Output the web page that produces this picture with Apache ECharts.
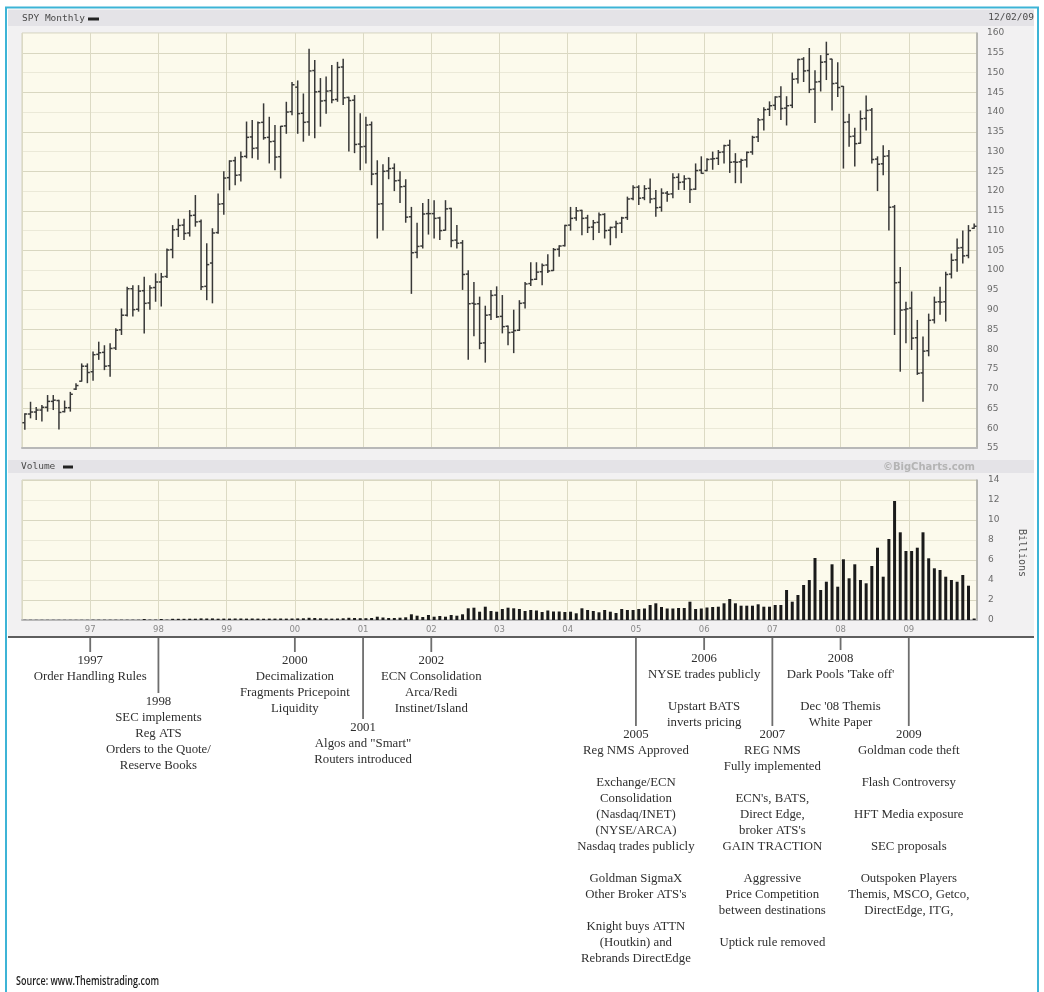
<!DOCTYPE html>
<html><head><meta charset="utf-8">
<script src="https://cdn.jsdelivr.net/npm/echarts@6/dist/echarts.min.js"></script>
<style>html,body{margin:0;padding:0;background:#fff;}#c{width:1044px;height:992px;}</style>
</head><body><div id="c"></div>
<script>
// ---- data (SPY monthly, Jan 1996 .. Dec 2009) ----
const yearLabels = ['97','98','99','00','01','02','03','04','05','06','07','08','09'];
const open = [
61.4,63.6,64.1,64.6,65.3,66.8,67.0,64.2,65.2,69.9,71.9,75.7,
74.3,78.7,79.2,75.8,80.3,84.9,88.6,95.3,90.1,94.8,91.7,95.6,
97.0,98.4,105.2,110.3,111.4,109.4,113.9,112.3,95.9,101.8,109.5,116.8,
123.4,127.7,124.1,128.8,133.7,130.9,137.4,133.6,132.6,128.7,136.5,140.1,
146.3,139.7,137.5,150.5,145.2,142.9,145.4,143.2,151.4,143.7,143.0,131.9,
131.3,136.8,124.4,116.8,125.1,125.8,122.7,121.2,113.5,104.5,106.1,114.3,
114.3,113.2,110.1,115.6,107.6,106.9,99.0,91.6,91.5,81.6,88.7,93.7,
88.3,85.8,84.3,84.8,91.7,96.6,97.7,99.6,101.3,99.9,105.3,106.2,
111.4,113.2,115.1,113.2,110.9,112.1,114.1,110.1,110.9,111.9,113.3,118.1,
121.0,118.3,120.7,118.1,115.9,119.5,119.3,123.5,122.3,123.2,120.5,125.3,
125.2,128.1,128.3,129.9,131.6,127.4,127.4,127.9,129.9,133.7,138.1,140.7,
141.7,143.9,141.0,141.7,148.4,153.4,150.5,145.8,147.7,152.7,153.4,147.3,
146.5,137.5,133.9,132.1,138.4,140.5,128.1,126.9,128.9,116.0,96.9,90.0,
90.4,82.9,74.0,79.6,87.4,92.0,92.0,99.0,102.6,105.7,103.7,110.6];
const high = [
63.8,66.7,65.4,65.9,68.4,68.4,67.2,67.0,69.2,71.4,76.4,76.4,
79.4,81.9,81.0,81.5,85.3,90.3,95.8,96.2,96.2,98.3,96.2,99.2,
99.3,105.5,111.4,113.0,113.0,115.2,119.0,112.8,106.8,110.6,119.4,125.0,
127.8,128.7,130.0,137.6,138.0,137.6,142.2,138.8,136.7,136.5,142.6,147.6,
148.0,144.7,156.0,153.2,148.6,149.0,151.9,152.7,153.5,143.9,144.3,139.7,
138.8,137.6,127.8,126.8,128.6,127.0,125.0,123.0,116.0,112.0,117.0,118.0,
117.7,113.5,117.7,115.8,111.4,107.6,100.0,97.0,93.3,91.0,95.0,95.9,
93.7,86.0,90.0,92.4,97.0,102.0,102.0,101.7,104.0,105.6,106.3,111.5,
116.0,116.0,115.3,114.0,112.7,114.6,114.4,111.0,112.5,113.5,118.6,121.5,
121.5,121.5,123.2,120.3,120.7,120.0,124.5,124.5,124.0,123.3,127.0,128.8,
128.3,130.0,130.4,131.7,133.0,129.6,128.2,130.0,134.0,138.5,141.2,142.7,
144.0,146.5,144.0,150.0,153.5,153.9,156.2,150.6,154.4,157.8,153.5,152.6,
146.6,139.6,136.0,140.4,144.2,141.0,128.8,131.6,130.4,116.5,100.8,92.0,
94.6,87.4,83.2,89.0,93.3,95.8,99.6,104.2,108.0,110.0,111.4,111.8];
const low = [
59.6,62.5,62.1,61.7,64.2,64.6,59.7,64.0,64.2,69.7,71.8,71.4,
72.0,77.3,74.7,73.0,79.8,83.6,88.3,88.3,89.5,84.0,90.0,92.0,
90.8,98.0,103.0,108.4,107.6,108.5,111.0,95.0,92.4,91.6,109.2,114.0,
120.2,121.5,122.4,128.3,128.3,127.9,133.0,127.0,125.3,123.2,134.5,139.2,
134.5,132.5,134.0,133.4,136.3,139.6,142.2,142.6,141.8,130.0,129.6,125.3,
127.0,121.5,108.0,110.0,123.0,120.0,117.0,112.0,94.0,103.0,105.5,109.0,
108.0,107.6,110.0,105.8,105.5,95.0,77.3,83.3,80.0,76.6,87.4,87.9,
84.0,81.0,79.0,84.6,90.3,96.0,97.5,96.2,99.3,99.8,103.4,106.0,
110.0,112.5,108.8,109.4,107.6,109.4,108.0,106.3,108.1,109.4,112.7,117.7,
116.5,117.7,116.9,113.5,114.8,117.3,118.2,120.3,120.3,117.0,120.3,124.4,
125.0,125.4,126.6,127.0,124.6,122.0,122.0,126.0,129.2,132.4,135.3,139.0,
140.5,138.0,136.6,141.0,147.2,147.6,144.8,137.2,145.2,148.1,140.4,143.8,
125.7,131.2,126.2,132.0,135.3,127.0,120.0,124.0,110.0,83.6,74.3,81.5,
79.8,73.5,66.7,78.2,86.5,88.7,87.0,97.9,99.6,101.7,103.0,110.5];
const close = [
63.6,64.1,64.6,65.3,66.8,67.1,64.0,65.2,68.6,70.8,75.7,74.1,
78.6,79.1,75.7,80.2,84.8,88.6,95.3,90.0,94.7,91.6,95.5,97.0,
98.3,105.1,110.2,111.3,109.3,113.8,112.2,95.8,101.4,109.4,116.7,123.3,
127.6,124.0,128.7,133.6,130.8,137.3,133.5,132.5,128.6,136.4,140.0,146.9,
139.6,137.4,150.4,145.1,142.8,145.3,143.1,151.3,143.6,142.9,131.8,131.2,
136.7,124.3,116.7,125.0,125.7,122.6,121.1,113.4,104.4,106.0,114.2,114.3,
113.1,110.0,115.5,107.5,106.8,98.9,91.5,91.4,81.5,88.6,93.6,88.2,
85.7,84.2,84.7,91.6,96.5,97.6,99.5,101.2,99.8,105.2,106.1,111.3,
113.1,115.0,113.1,110.8,112.0,114.0,110.0,110.8,111.8,113.2,118.0,120.9,
118.2,120.6,118.0,115.8,119.5,119.2,123.4,122.2,123.1,120.4,125.2,124.5,
128.0,128.2,129.8,131.5,127.3,127.3,127.8,129.8,133.6,138.0,140.6,141.6,
143.8,140.9,141.6,148.3,153.3,150.4,145.7,147.6,152.6,154.6,147.2,146.2,
137.4,133.8,132.0,138.3,140.4,128.0,126.8,128.8,115.9,96.8,89.9,90.2,
82.8,73.9,79.5,87.3,91.9,91.9,98.9,102.5,105.6,103.6,110.0,111.1];
// volume, billions of shares
const volume = [
0.02,0.02,0.02,0.02,0.02,0.02,0.02,0.02,0.02,0.02,0.02,0.02,
0.03,0.03,0.03,0.03,0.03,0.03,0.03,0.03,0.03,0.1,0.04,0.04,
0.1,0.04,0.12,0.12,0.12,0.13,0.13,0.16,0.15,0.16,0.13,0.14,
0.14,0.15,0.15,0.14,0.15,0.14,0.13,0.14,0.14,0.15,0.14,0.15,
0.16,0.17,0.22,0.2,0.17,0.15,0.14,0.15,0.17,0.22,0.2,0.18,
0.18,0.2,0.33,0.25,0.2,0.2,0.23,0.27,0.57,0.43,0.3,0.5,
0.33,0.4,0.33,0.5,0.43,0.57,1.17,1.23,0.83,1.33,0.9,0.83,
1.1,1.23,1.17,1.1,0.9,1.0,0.95,0.8,0.95,0.85,0.85,0.8,
0.83,0.67,1.17,1.0,0.9,0.77,1.0,0.83,0.7,1.1,1.0,1.0,
1.1,1.15,1.5,1.67,1.3,1.15,1.15,1.2,1.2,1.83,1.1,1.15,
1.25,1.3,1.33,1.67,2.1,1.67,1.43,1.43,1.43,1.57,1.33,1.33,
1.5,1.5,3.0,1.83,2.5,3.5,4.0,6.2,3.0,3.83,5.57,3.33,
6.07,4.17,5.57,4.0,3.67,5.4,7.23,4.33,8.1,11.9,8.77,6.9,
6.9,7.23,8.77,6.17,5.17,5.0,4.33,4.0,3.83,4.5,3.43,0.15];
// timeline annotations
const annotations = [
 {year:1997, lineEnd:652, lines:['1997','Order Handling Rules']},
 {year:1998, lineEnd:693, lines:['1998','SEC implements','Reg ATS','Orders to the Quote/','Reserve Books']},
 {year:2000, lineEnd:652, lines:['2000','Decimalization','Fragments Pricepoint','Liquidity']},
 {year:2001, lineEnd:719, lines:['2001','Algos and "Smart"','Routers introduced']},
 {year:2002, lineEnd:652, lines:['2002','ECN Consolidation','Arca/Redi','Instinet/Island']},
 {year:2005, lineEnd:726, lines:['2005','Reg NMS Approved','','Exchange/ECN','Consolidation','(Nasdaq/INET)','(NYSE/ARCA)','Nasdaq trades publicly','','Goldman SigmaX','Other Broker ATS\'s','','Knight buys ATTN','(Houtkin) and','Rebrands DirectEdge']},
 {year:2006, lineEnd:650, lines:['2006','NYSE trades publicly','','Upstart BATS','inverts pricing']},
 {year:2007, lineEnd:726, lines:['2007','REG NMS','Fully implemented','','ECN\'s, BATS,','Direct Edge,','broker ATS\'s','GAIN TRACTION','','Aggressive','Price Competition','between destinations','','Uptick rule removed']},
 {year:2008, lineEnd:650, lines:['2008','Dark Pools \'Take off\'','','Dec \'08 Themis','White Paper']},
 {year:2009, lineEnd:726, lines:['2009','Goldman code theft','','Flash Controversy','','HFT Media exposure','','SEC proposals','','Outspoken Players','Themis, MSCO, Getco,','DirectEdge, ITG,']}
];

const ohlc = close.map((c, i) => [i + 0.5, open[i], high[i], low[i], c]);
const vol = volume.map((v, i) => [i + 0.5, v]);

const chart = echarts.init(document.getElementById('c'));
const lblFont = {fontFamily:'DejaVu Sans', fontSize:9, color:'#6a6a6a'};
const darkGrid = '#d9d7c1', lightGrid = '#ebe9d8';

function renderOHLC(params, api) {
  const x = api.value(0);
  const o = api.coord([x, api.value(1)]);
  const h = api.coord([x, api.value(2)]);
  const l = api.coord([x, api.value(3)]);
  const c = api.coord([x, api.value(4)]);
  const st = {stroke:'#383838', lineWidth:1.5};
  return {type:'group', children:[
    {type:'line', shape:{x1:h[0], y1:h[1], x2:l[0], y2:l[1]}, style:st},
    {type:'line', shape:{x1:o[0]-2.5, y1:o[1], x2:o[0], y2:o[1]}, style:st},
    {type:'line', shape:{x1:c[0], y1:c[1], x2:c[0]+2.5, y2:c[1]}, style:st}
  ]};
}

const xCommon = {type:'value', min:0, max:168, interval:12,
  axisTick:{show:false},
  axisLine:{show:true, onZero:false, lineStyle:{color:'#b8b8b8', width:2}},
  splitLine:{show:true, lineStyle:{color:'#dcdac4', width:1}}};

chart.setOption({
  animation:false,
  backgroundColor:'#ffffff',
  grid:[
    {left:22, right:67, top:33, height:415, show:true, backgroundColor:'#fcfaec', borderColor:'#d3d1bd', borderWidth:1},
    {left:22, right:67, top:480, height:140, show:true, backgroundColor:'#fcfaec', borderColor:'#d3d1bd', borderWidth:1}
  ],
  xAxis:[
    Object.assign({gridIndex:0, axisLabel:{show:false}}, xCommon),
    Object.assign({gridIndex:1, axisLabel:{show:true, fontFamily:'DejaVu Sans', fontSize:8.5, color:'#8a8a8a', margin:5,
      showMinLabel:false, showMaxLabel:false,
      formatter: v => yearLabels[v / 12 - 1] || ''}}, xCommon)
  ],
  yAxis:[
    {type:'value', gridIndex:0, position:'right', min:55, max:160, interval:5,
     axisLabel:Object.assign({margin:10}, lblFont), axisTick:{show:false},
     axisLine:{show:true, onZero:false, lineStyle:{color:'#a8a8a8', width:1.5}},
     splitLine:{show:true, lineStyle:{color:[darkGrid, lightGrid]}}},
    {type:'value', gridIndex:1, position:'right', min:0, max:14, interval:2,
     axisLabel:Object.assign({margin:11}, lblFont), axisTick:{show:false},
     axisLine:{show:true, onZero:false, lineStyle:{color:'#a8a8a8', width:1.5}},
     splitLine:{show:true, lineStyle:{color:[lightGrid, darkGrid]}}}
  ],
  series:[
    {type:'custom', name:'SPY', xAxisIndex:0, yAxisIndex:0, data:ohlc, renderItem:renderOHLC,
     encode:{x:0, y:[1,2,3,4]}, clip:true, z:5},
    {type:'bar', name:'Volume', xAxisIndex:1, yAxisIndex:1, data:vol, barWidth:3,
     itemStyle:{color:'#1a1a1a'}, z:5}
  ]
});

// ---- frame, headers, annotations ----
const g = [];
g.push({type:'rect', z:-10, shape:{x:8, y:9, width:1026, height:628}, style:{fill:'#f2f1f2'}});
g.push({type:'rect', z:-9, shape:{x:8, y:10, width:1026, height:16}, style:{fill:'#e4e3e7'}});
g.push({type:'rect', z:-9, shape:{x:8, y:460, width:1026, height:13}, style:{fill:'#e4e3e7'}});
g.push({type:'line', z:-8, shape:{x1:8, y1:637, x2:1034, y2:637}, style:{stroke:'#5e5e5e', lineWidth:2}});
g.push({type:'line', z:-8, shape:{x1:5, y1:7.5, x2:1039, y2:7.5}, style:{stroke:'#3db4d6', lineWidth:2}});
g.push({type:'line', z:-8, shape:{x1:6, y1:7, x2:6, y2:992}, style:{stroke:'#3db4d6', lineWidth:2}});
g.push({type:'line', z:-8, shape:{x1:1038, y1:7, x2:1038, y2:992}, style:{stroke:'#3db4d6', lineWidth:2}});

const mono = '"DejaVu Sans Mono", monospace';
g.push({type:'text', style:{text:'SPY Monthly', x:22, y:19, font:'9.5px ' + mono, fill:'#4a4a4a', textVerticalAlign:'middle', verticalAlign:'middle'}});
g.push({type:'rect', shape:{x:88, y:17.5, width:11, height:3}, style:{fill:'#222'}});
g.push({type:'text', style:{text:'12/02/09', x:1034, y:18, font:'9.5px ' + mono, fill:'#4a4a4a', textAlign:'right', align:'right', textVerticalAlign:'middle', verticalAlign:'middle'}});
g.push({type:'text', style:{text:'Volume', x:21, y:467, font:'9.5px ' + mono, fill:'#4a4a4a', textVerticalAlign:'middle', verticalAlign:'middle'}});
g.push({type:'rect', shape:{x:63, y:465.5, width:10, height:3}, style:{fill:'#222'}});
g.push({type:'text', style:{text:'\u00a9BigCharts.com', x:975, y:467, font:'bold 10px "DejaVu Sans"', fill:'#b4b4b4', textAlign:'right', align:'right', textVerticalAlign:'middle', verticalAlign:'middle'}});
g.push({type:'text', x:1022, y:553, rotation:-Math.PI/2, style:{text:'Billions', x:0, y:0, font:'10px ' + mono, fill:'#555', textAlign:'center', align:'center', textVerticalAlign:'middle', verticalAlign:'middle'}});

const serif = '12.8px "Liberation Serif", "DejaVu Serif", serif';
annotations.forEach(a => {
  const xv = (a.year - 1996) * 12;
  const px = chart.convertToPixel({xAxisIndex:1}, xv);
  g.push({type:'line', shape:{x1:px, y1:638, x2:px, y2:a.lineEnd}, style:{stroke:'#6e6e6e', lineWidth:1.8}});
  g.push({type:'text', style:{text:a.lines.join('\n'), x:px, y:a.lineEnd + 1, font:serif,
    fill:'#2f2f2f', lineHeight:16, textAlign:'center', align:'center', textVerticalAlign:'top', verticalAlign:'top'}});
});

// source line: condensed look via horizontal scale to the reference width
const srcText = 'Source: www.Themistrading.com';
const srcFont = '600 13px "Open Sans", "Liberation Sans", sans-serif';
const ctx = document.createElement('canvas').getContext('2d');
ctx.font = srcFont;
const srcScale = 143 / ctx.measureText(srcText).width;
g.push({type:'text', x:16, y:981.5, scaleX:srcScale, style:{text:srcText, x:0, y:0,
  font:srcFont, fill:'#1e1e1e', textVerticalAlign:'middle', verticalAlign:'middle'}});

chart.setOption({graphic:{elements:g}});
</script></body></html>
